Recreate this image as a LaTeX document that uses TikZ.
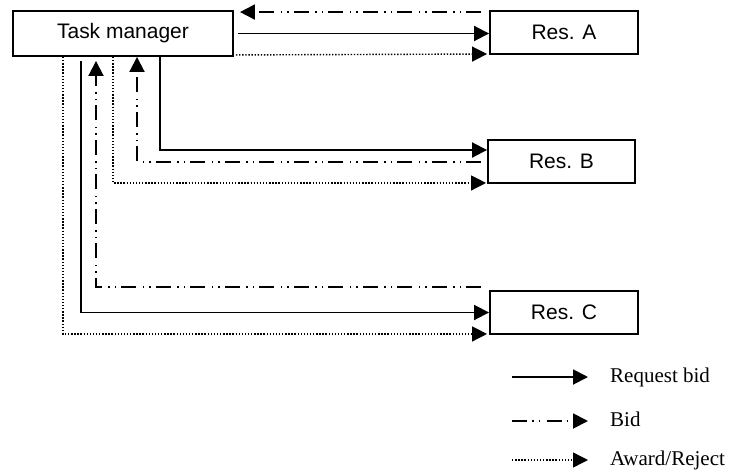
\documentclass[tikz,border=0pt]{standalone}
\usepackage{fontspec}
\setmainfont{Liberation Serif}
\setsansfont{Liberation Sans}
\usetikzlibrary{arrows.meta}

\tikzset{
  box/.style={draw, line width=1.9pt, inner sep=0pt, font=\sffamily\fontsize{21}{25}\selectfont},
  res/.style={box, minimum width=148pt, minimum height=43pt},
  conn/.style={line width=1.9pt, -{Triangle[length=15pt,width=15pt]}},
  req/.style={conn},
  bid/.style={conn, dash pattern=on 15pt off 5pt on 1.5pt off 5pt on 1.5pt off 6.5pt},
  award/.style={conn, line width=1.4pt, dash pattern=on 1.4pt off 1.7pt},
  legtxt/.style={anchor=west, inner sep=0pt, font=\fontsize{21}{25}\selectfont, text height=14pt, text depth=4pt},
}

\begin{document}
\begin{tikzpicture}[x=1pt,y=-1pt]
    \useasboundingbox (0,0) rectangle (739,472);

    \node[box, minimum width=220pt, minimum height=45pt] (tm) at (123,33.5) {Task manager};
    \node[res] (resA) at (564,32.5) {Res. A};
    \node[res, minimum width=147pt] (resB) at (561.5,161.5) {Res. B};
    \node[res] (resC) at (564,312.5) {Res. C};

    % resource A
    \draw[bid] ([shift={(-8,2)}]resA.north west) -- ([shift={(6,2)}]tm.north east);
    \draw[req] ([xshift=4pt]tm.east) -- ([shift={(0,1)}]resA.west);
    \draw[award] ([shift={(2,-2)}]tm.south east) -- ([shift={(-2,21.5)}]resA.west);

    % resource B
    \draw[req] ([xshift=37pt]tm.south) |- ([shift={(0,-11.5)}]resB.west);
    \draw[bid] ([shift={(-6,0.5)}]resB.west) -| ([xshift=14pt]tm.south);
    \draw[award] ([xshift=-10pt]tm.south) |- ([shift={(-1,-1)}]resB.south west);

    % resource C
    \draw[bid] ([shift={(-8,-25.5)}]resC.west) -| ([shift={(-27,4)}]tm.south);
    \draw[req] ([shift={(-42,4)}]tm.south) |- (resC.west);
    \draw[award] ([xshift=-60pt]tm.south) |- ([shift={(-2,-1)}]resC.south west);

    % legend
    \foreach \sty/\txt/\y in {req/Request bid/377, bid/Bid/421, award/{Award/Reject}/460} {
      \node[legtxt] (leg\sty) at (610,\y) {\txt};
      \draw[\sty] ([xshift=-98pt]leg\sty.west) -- ([xshift=-22pt]leg\sty.west);
    }
\end{tikzpicture}
\end{document}
